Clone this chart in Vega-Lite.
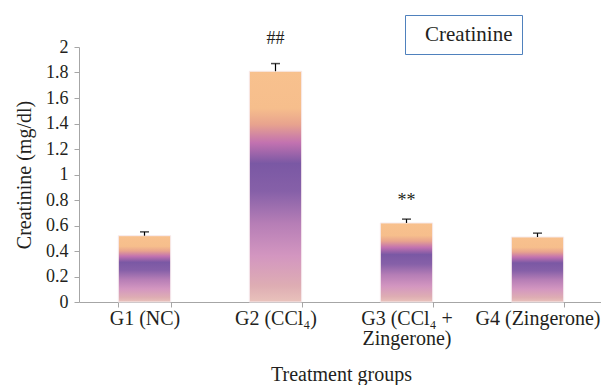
{
  "$schema": "https://vega.github.io/schema/vega-lite/v6.json",
  "width": 524,
  "height": 255,
  "autosize": {"type": "none"},
  "padding": {"left": 79, "top": 47, "right": 0, "bottom": 83},
  "background": "#ffffff",
  "config": {
    "view": {"stroke": null},
    "font": "Liberation Serif",
    "axis": {
      "domainColor": "#a6a6a6",
      "tickColor": "#a6a6a6",
      "labelColor": "#231f20",
      "titleColor": "#231f20",
      "labelFont": "Liberation Serif",
      "titleFont": "Liberation Serif",
      "titleFontWeight": "normal",
      "grid": false
    },
    "axisY": {"labelOverlap": false}
  },
  "data": {
    "values": [
      {"group": "G1 (NC)", "value": 0.52, "err": 0.55, "mark": "", "mark_y": null, "series": "Creatinine"},
      {"group": "G2 (CCl₄)", "value": 1.81, "err": 1.87, "mark": "##", "mark_y": 2.02, "series": "Creatinine"},
      {"group": "G3 (CCl₄ +|Zingerone)", "value": 0.62, "err": 0.65, "mark": "**", "mark_y": 0.75, "series": "Creatinine"},
      {"group": "G4 (Zingerone)", "value": 0.51, "err": 0.54, "mark": "", "mark_y": null, "series": "Creatinine"}
    ]
  },
  "encoding": {
    "x": {
      "field": "group",
      "type": "nominal",
      "sort": null,
      "scale": {"paddingInner": 0.6, "paddingOuter": 0.3},
      "axis": {
        "title": "Treatment groups",
        "titleFontSize": 20,
        "titleY": 78,
        "titleBaseline": "alphabetic",
        "labelAngle": 0,
        "labelFontSize": 20,
        "labelPadding": 1,
        "labelOverlap": false,
        "tickSize": 5,
        "tickBand": "extent",
        "labelLineHeight": 20,
        "labelExpr": "split(datum.label, '|')"
      }
    }
  },
  "layer": [
    {
      "mark": {
        "type": "bar",
        "stroke": "#f7ecef",
        "strokeWidth": 1,
        "color": {
          "gradient": "linear",
          "x1": 0, "y1": 0, "x2": 0, "y2": 1,
          "stops": [
            {"offset": 0, "color": "#f8c18e"},
            {"offset": 0.16, "color": "#f6be8c"},
            {"offset": 0.23, "color": "#e8a38e"},
            {"offset": 0.31, "color": "#c272b0"},
            {"offset": 0.4, "color": "#7a58a4"},
            {"offset": 0.52, "color": "#8660a8"},
            {"offset": 0.66, "color": "#b67eb6"},
            {"offset": 0.8, "color": "#d396c0"},
            {"offset": 0.93, "color": "#deadb3"},
            {"offset": 1, "color": "#e9c2bb"}
          ]
        }
      },
      "encoding": {
        "y": {
          "field": "value",
          "type": "quantitative",
          "scale": {"domain": [0, 2], "nice": false},
          "axis": {
            "title": "Creatinine (mg/dl)",
            "titleFontSize": 20,
            "titleX": -49,
            "titleY": 127.5,
            "titleAngle": -90,
            "titleAlign": "center",
            "titleBaseline": "alphabetic",
            "labelFontSize": 18,
            "labelPadding": 6,
            "labelOverlap": false,
            "tickSize": 5,
            "values": [0, 0.2, 0.4, 0.6, 0.8, 1, 1.2, 1.4, 1.6, 1.8, 2],
            "format": "~g"
          }
        }
      }
    },
    {
      "mark": {"type": "rule", "color": "#000000", "strokeWidth": 1.2},
      "encoding": {
        "y": {
          "field": "value",
          "type": "quantitative",
          "axis": {
            "title": "Creatinine (mg/dl)",
            "labelOverlap": false,
            "values": [0, 0.2, 0.4, 0.6, 0.8, 1, 1.2, 1.4, 1.6, 1.8, 2],
            "format": "~g"
          }
        },
        "y2": {"field": "err"}
      }
    },
    {
      "mark": {"type": "tick", "color": "#000000", "size": 9, "thickness": 1.5},
      "encoding": {
        "y": {
          "field": "err",
          "type": "quantitative",
          "axis": {
            "title": "Creatinine (mg/dl)",
            "labelOverlap": false,
            "values": [0, 0.2, 0.4, 0.6, 0.8, 1, 1.2, 1.4, 1.6, 1.8, 2],
            "format": "~g"
          }
        }
      }
    },
    {
      "mark": {"type": "text", "fontSize": 18, "baseline": "alphabetic", "font": "Liberation Serif"},
      "encoding": {
        "y": {
          "field": "mark_y",
          "type": "quantitative",
          "axis": {
            "title": "Creatinine (mg/dl)",
            "labelOverlap": false,
            "values": [0, 0.2, 0.4, 0.6, 0.8, 1, 1.2, 1.4, 1.6, 1.8, 2],
            "format": "~g"
          }
        },
        "text": {"field": "mark"},
        "color": {
          "field": "series",
          "type": "nominal",
          "scale": {"range": ["#231f20"]},
          "legend": {
            "title": null,
            "orient": "none",
            "legendX": 326,
            "legendY": -32,
            "padding": 9,
            "strokeColor": "#4f81bd",
            "fillColor": "#ffffff",
            "symbolOpacity": 0,
            "symbolSize": 0,
            "symbolStrokeWidth": 0,
            "labelOffset": -10,
            "labelFont": "Liberation Serif",
            "labelFontSize": 21,
            "labelColor": "#231f20",
            "labelExpr": "datum.label + '\u00a0\u00a0\u00a0\u00a0\u00a0\u00a0'"
          }
        }
      }
    }
  ]
}
